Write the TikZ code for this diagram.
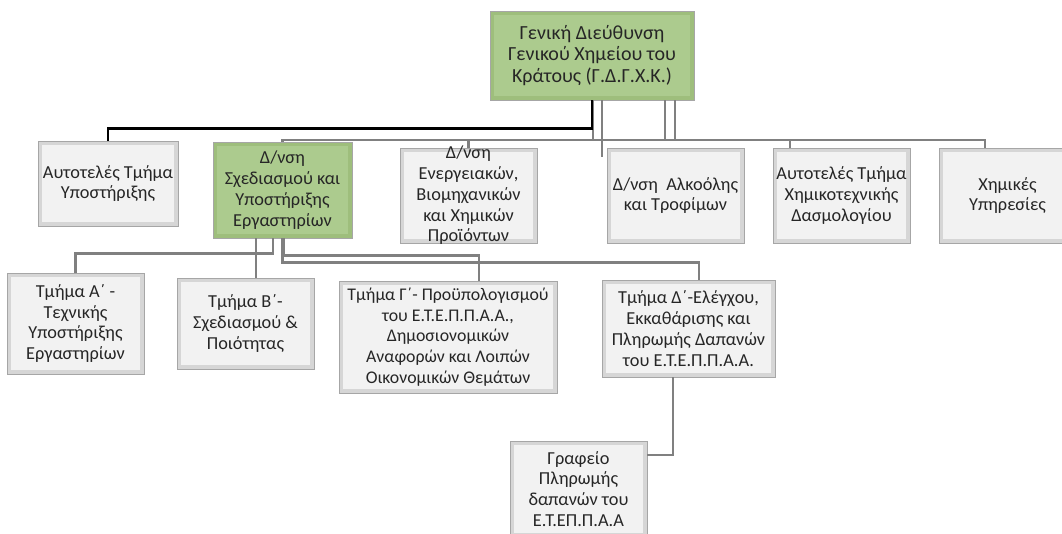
\documentclass[tikz,border=0pt]{standalone}
\usepackage{fontspec}
\setmainfont{Carlito}
\usepackage{tikz}

\definecolor{boxframe}{RGB}{214,214,214}
\definecolor{boxface}{RGB}{242,242,242}
\definecolor{greenframe}{RGB}{158,190,124}
\definecolor{greenface}{RGB}{172,203,142}
\definecolor{connline}{RGB}{128,128,128}

\tikzset{
    box/.style={draw=gray!70, line width=0.9pt, fill=boxframe, align=center,
        text=black!85, inner xsep=2pt, inner ysep=1pt,
        minimum width=137, minimum height=95,
        path picture={\fill[boxface] ([shift={(4pt,-4pt)}]path picture bounding box.north west)
            rectangle ([shift={(-4pt,4pt)}]path picture bounding box.south east);}},
    greenbox/.style={fill=greenframe,
        path picture={\fill[greenface] ([shift={(4pt,-4pt)}]path picture bounding box.north west)
            rectangle ([shift={(-4pt,4pt)}]path picture bounding box.south east);}},
    conn/.style={draw=connline, line width=2.6pt},
    topline/.style={draw=black, line width=2.6pt}
}

\begin{document}
\begin{tikzpicture}[x=1pt,y=-1pt,every node/.style={font=\fontsize{18.3}{20.8}\selectfont}]
                \useasboundingbox (0,0) rectangle (1062,534);

                \node[box, greenbox, minimum width=204, minimum height=89, font=\fontsize{20}{21.5}\selectfont] (gdgxk) at (592,55.5) {Γενική Διεύθυνση\\Γενικού Χημείου του\\Κράτους (Γ.Δ.Γ.Χ.Κ.)};

                \node[box, minimum width=140, minimum height=85] (ats) at (108,183.5) {Αυτοτελές Τμήμα\\Υποστήριξης};
                \node[box, greenbox, minimum width=139, minimum height=96] (dsx) at (282.5,190) {Δ/νση\\Σχεδιασμού και\\Υποστήριξης\\Εργαστηρίων};
                \node[box, inner ysep=-4pt] (den) at (468.5,195.5) {Δ/νση\\Ενεργειακών,\\Βιομηχανικών\\και Χημικών\\Προϊόντων};
                \node[box] (dat) at (675.5,195.5) {Δ/νση~~Αλκοόλης\\και Τροφίμων};
                \node[box] (atx) at (841.5,195.5) {Αυτοτελές Τμήμα\\Χημικοτεχνικής\\Δασμολογίου};
                \node[box] (xy) at (1007.5,195.5) {Χημικές\\Υπηρεσίες};

                \node[box, minimum height=101] (tma) at (75.5,323.5) {Τμήμα Α΄ -\\Τεχνικής\\Υποστήριξης\\Εργαστηρίων};
                \node[box, minimum height=91] (tmb) at (245.5,323.5) {Τμήμα Β΄-\\Σχεδιασμού \&\\Ποιότητας};
                \node[box, minimum width=218, minimum height=112, font=\fontsize{17.8}{20.8}\selectfont] (tmg) at (448,337) {Τμήμα Γ΄- Προϋπολογισμού\\του Ε.Τ.Ε.Π.Π.Α.Α.,\\Δημοσιονομικών\\Αναφορών και Λοιπών\\Οικονομικών Θεμάτων};
                \node[box, minimum width=173, minimum height=97] (tmd) at (688.5,328.5) {Τμήμα Δ΄-Ελέγχου,\\Εκκαθάρισης και\\Πληρωμής Δαπανών\\του Ε.Τ.Ε.Π.Π.Α.Α.};

                \node[box, minimum height=96] (gpd) at (578.5,489) {Γραφείο\\Πληρωμής\\δαπανών του\\Ε.Τ.ΕΠ.Π.Α.Α};

                \coordinate (bus) at (0,140);
                \draw[conn] (dsx.north) |- (bus -| 985,0) -- ([xshift=-22.5pt]xy.north);
                \draw[conn] (den.north) -- (bus -| den.north);
                \draw[conn] ([xshift=-51.5pt]atx.north) -- (bus -| 790,0);
                \draw[conn] ([xshift=1pt]gdgxk.south) -- (bus -| 593,0);
                \draw[conn] ([xshift=73pt]gdgxk.south) -- (bus -| 665,0);
                \draw[conn] ([xshift=83pt]gdgxk.south) -- (bus -| 675,0);
                \draw[conn] ([xshift=10pt]gdgxk.south) -- ++(0,57);
                \draw[topline] (gdgxk.south) -- ++(0,28) -| (ats.north);

                \draw[conn] ([xshift=-26.5pt]dsx.south) -- ([xshift=10.5pt]tmb.north);
                \draw[conn] ([xshift=-9.5pt]dsx.south) -- ++(0,15) -| (tma.north);
                \draw[conn] ([xshift=1.5pt]dsx.south) -- ++(0,17) -| ([xshift=31pt]tmg.north);
                \draw[conn] (dsx.south) -- ++(0,24) -| ([xshift=10.5pt]tmd.north);

                \draw[conn] ([xshift=-15.5pt]tmd.south) |- ([yshift=34pt]gpd.east);
            \end{tikzpicture}
\end{document}
